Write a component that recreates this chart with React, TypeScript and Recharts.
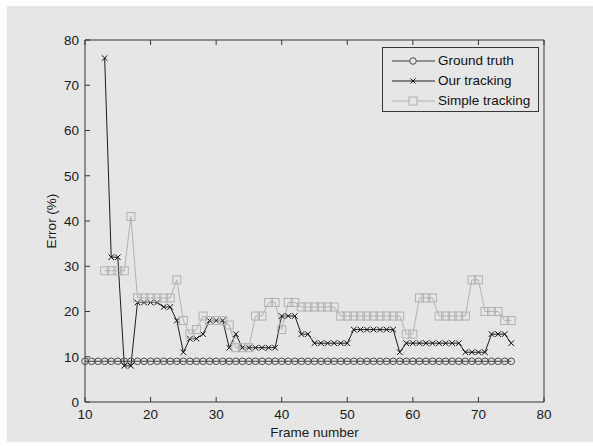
import React from 'react';
import { LineChart, Line, XAxis, YAxis, Legend } from 'recharts';

const frames = [
  10, 11, 12, 13, 14, 15, 16, 17, 18, 19, 20, 21, 22, 23, 24, 25, 26, 27, 28, 29,
  30, 31, 32, 33, 34, 35, 36, 37, 38, 39, 40, 41, 42, 43, 44, 45, 46, 47, 48, 49,
  50, 51, 52, 53, 54, 55, 56, 57, 58, 59, 60, 61, 62, 63, 64, 65, 66, 67, 68, 69,
  70, 71, 72, 73, 74, 75,
];

const groundTruth = [
  9, 9, 9, 9, 9, 9, 9, 9, 9, 9, 9, 9, 9, 9, 9, 9, 9, 9, 9, 9,
  9, 9, 9, 9, 9, 9, 9, 9, 9, 9, 9, 9, 9, 9, 9, 9, 9, 9, 9, 9,
  9, 9, 9, 9, 9, 9, 9, 9, 9, 9, 9, 9, 9, 9, 9, 9, 9, 9, 9, 9,
  9, 9, 9, 9, 9, 9,
];

const ourTracking = [
  null, null, null, 76, 32, 32, 8, 8, 22, 22, 22, 22, 21, 21, 18, 11, 14, 14, 15, 18,
  18, 18, 12, 15, 12, 12, 12, 12, 12, 12, 19, 19, 19, 15, 15, 13, 13, 13, 13, 13,
  13, 16, 16, 16, 16, 16, 16, 16, 11, 13, 13, 13, 13, 13, 13, 13, 13, 13, 11, 11,
  11, 11, 15, 15, 15, 13,
];

const simpleTracking = [
  null, null, null, 29, 29, 29, 29, 41, 23, 23, 23, 23, 23, 23, 27, 18, 15, 16, 19, 18,
  18, 18, 17, 12, 12, 12, 19, 19, 22, 22, 16, 22, 22, 21, 21, 21, 21, 21, 21, 19,
  19, 19, 19, 19, 19, 19, 19, 19, 19, 15, 15, 23, 23, 23, 19, 19, 19, 19, 19, 27,
  27, 20, 20, 20, 18, 18,
];

const xTicks = [10, 20, 30, 40, 50, 60, 70, 80];
const yTicks = [0, 10, 20, 30, 40, 50, 60, 70, 80];

const seriesNames = { gt: 'Ground truth', ours: 'Our tracking', simple: 'Simple tracking' };

const data = frames.map((f, i) => ({
  frame: f,
  gt: groundTruth[i],
  ours: ourTracking[i],
  simple: simpleTracking[i],
}));

const GT_COLOR = '#3a3a3a';
const OURS_COLOR = '#1e1e1e';
const SIMPLE_COLOR = '#b2b2b2';
const AXIS_COLOR = '#363636';
const BG = '#e6e6e6';
const FONT = 'Arial, "Liberation Sans", sans-serif';

const CircleDot = (props: any) => {
  const { cx, cy, index } = props;
  if (cx == null || cy == null || props.value == null) return <g key={'c' + index} />;
  return <circle key={'c' + index} cx={cx} cy={cy} r={3.3} fill="none" stroke="#4a4a4a" strokeWidth={1} />;
};

const CrossDot = (props: any) => {
  const { cx, cy, index } = props;
  if (cx == null || cy == null || props.value == null) return <g key={'x' + index} />;
  const s = 2.8;
  return (
    <g key={'x' + index}>
      <line x1={cx - s} y1={cy - s} x2={cx + s} y2={cy + s} stroke="#111" strokeWidth={1} />
      <line x1={cx - s} y1={cy + s} x2={cx + s} y2={cy - s} stroke="#111" strokeWidth={1} />
    </g>
  );
};

const SquareDot = (props: any) => {
  const { cx, cy, index } = props;
  if (cx == null || cy == null || props.value == null) return <g key={'s' + index} />;
  const s = 4;
  return (
    <rect key={'s' + index} x={cx - s} y={cy - s} width={2 * s} height={2 * s} fill="none" stroke={SIMPLE_COLOR} strokeWidth={1} />
  );
};

const LegendMarker = ({ k, color }: { k: string; color: string }) => {
  const cx = 30;
  const cy = 10;
  let marker: React.ReactNode = null;
  if (k === 'gt') marker = <circle cx={cx} cy={cy} r={3.3} fill={BG} stroke="#4a4a4a" />;
  if (k === 'ours')
    marker = (
      <g>
        <line x1={cx - 2.5} y1={cy - 2.5} x2={cx + 2.5} y2={cy + 2.5} stroke="#111" />
        <line x1={cx - 2.5} y1={cy + 2.5} x2={cx + 2.5} y2={cy - 2.5} stroke="#111" />
      </g>
    );
  if (k === 'simple') marker = <rect x={cx - 4} y={cy - 4} width={8} height={8} fill={BG} stroke={SIMPLE_COLOR} />;
  return (
    <svg width={55} height={20} style={{ display: 'block' }}>
      <line x1={9} y1={cy} x2={52} y2={cy} stroke={color} strokeWidth={1} />
      {marker}
    </svg>
  );
};

const renderLegend = (props: any) => {
  const payload = props.payload || [];
  return (
    <div
      style={{
        width: 157,
        height: 65,
        boxSizing: 'border-box',
        border: `1px solid ${AXIS_COLOR}`,
        background: BG,
        paddingTop: 3,
        fontFamily: FONT,
        fontSize: 13.5,
        color: '#111',
      }}
    >
      {payload.map((entry: any) => (
        <div key={entry.dataKey} style={{ display: 'flex', alignItems: 'center', height: 20 }}>
          <LegendMarker k={entry.dataKey} color={entry.color} />
          <span style={{ lineHeight: '20px', whiteSpace: 'nowrap' }}>{entry.value}</span>
        </div>
      ))}
    </div>
  );
};

const tickStyle = { fill: '#1a1a1a', fontSize: 13.5, fontFamily: FONT };

export default function App() {
  return (
    <div style={{ position: 'absolute', left: 0, top: 0, width: 593, height: 446, background: '#ffffff' }}>
      <div style={{ position: 'absolute', left: 7, top: 6, width: 586, height: 436, background: BG }} />
      <div style={{ position: 'absolute', left: 0, top: 0 }}>
        <LineChart
          width={593}
          height={446}
          data={data}
          margin={{ top: 0, right: 0, bottom: 0, left: 0 }}
          style={{ fontFamily: FONT }}
        >
          <XAxis
            xAxisId="b"
            dataKey="frame"
            type="number"
            domain={[10, 80]}
            ticks={xTicks}
            height={44}
            tickSize={-5}
            tickMargin={12}
            stroke={AXIS_COLOR}
            tick={tickStyle}
            label={{
              content: () => (
                <text x={314.5} y={432} textAnchor="middle" dominantBaseline="central" fill="#1a1a1a" fontSize={13.5} fontFamily={FONT}>
                  Frame number
                </text>
              ),
            }}
          />
          <XAxis
            xAxisId="t"
            orientation="top"
            dataKey="frame"
            type="number"
            domain={[10, 80]}
            ticks={xTicks}
            height={40}
            tickSize={-5}
            stroke={AXIS_COLOR}
            tickFormatter={() => ''}
          />
          <YAxis
            yAxisId="l"
            type="number"
            domain={[0, 80]}
            ticks={yTicks}
            width={85}
            tickSize={-5}
            tickMargin={11}
            stroke={AXIS_COLOR}
            tick={tickStyle}
            label={{
              content: () => (
                <text
                  x={51}
                  y={221}
                  textAnchor="middle"
                  dominantBaseline="central"
                  transform="rotate(-90 51 221)"
                  fill="#1a1a1a"
                  fontSize={13.5}
                  fontFamily={FONT}
                >
                  Error (%)
                </text>
              ),
            }}
          />
          <YAxis
            yAxisId="r"
            orientation="right"
            type="number"
            domain={[0, 80]}
            ticks={yTicks}
            width={49}
            tickSize={-5}
            stroke={AXIS_COLOR}
            tickFormatter={() => ''}
          />
          <Legend
            layout="horizontal"
            verticalAlign="middle"
            align="center"
            content={renderLegend}
            wrapperStyle={{ position: 'absolute', left: 382, top: 47, width: 157, height: 65 }}
          />
          <Line
            xAxisId="b"
            yAxisId="l"
            dataKey="gt"
            name={seriesNames.gt}
            stroke={GT_COLOR}
            strokeWidth={1}
            dot={CircleDot}
            activeDot={false}
            isAnimationActive={false}
          />
          <Line
            xAxisId="b"
            yAxisId="l"
            dataKey="ours"
            name={seriesNames.ours}
            stroke={OURS_COLOR}
            strokeWidth={1}
            dot={CrossDot}
            activeDot={false}
            isAnimationActive={false}
          />
          <Line
            xAxisId="b"
            yAxisId="l"
            dataKey="simple"
            name={seriesNames.simple}
            stroke={SIMPLE_COLOR}
            strokeWidth={1}
            dot={SquareDot}
            activeDot={false}
            isAnimationActive={false}
          />
        </LineChart>
      </div>
    </div>
  );
}
